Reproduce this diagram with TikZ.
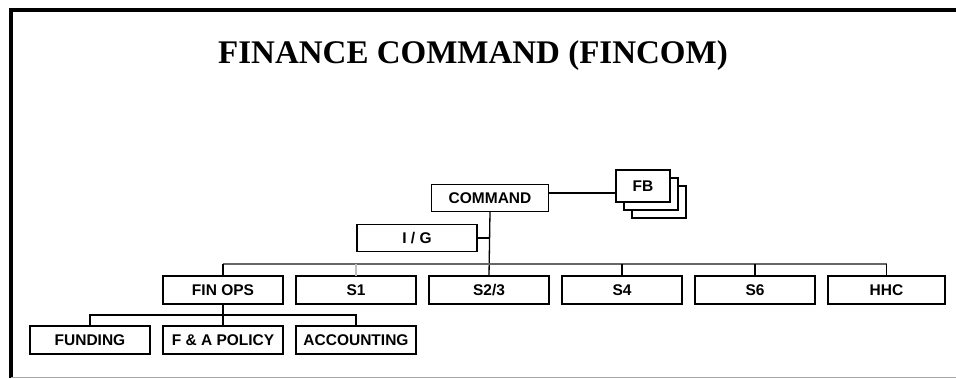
\documentclass[tikz,border=0pt]{standalone}
\usepackage{fontspec}
\setmainfont{Liberation Serif}
\setsansfont{Liberation Sans}
\usetikzlibrary{positioning}

\begin{document}
\begin{tikzpicture}[
    x=1pt, y=-1pt,
    node distance=22pt and 13pt,
    box/.style={rectangle, draw, line width=1.6pt, outer sep=0pt, fill=white, minimum width=120pt, minimum height=28pt, inner sep=0pt, text centered, font=\sffamily\bfseries\fontsize{15.5}{15.5}\selectfont},
    unit/.style={box},
    staff/.style={box, minimum width=117pt, minimum height=27pt},
    board/.style={box, minimum width=54pt, minimum height=32pt},
    tree/.style={line width=1.3pt, black},
    frame/.style={line width=4pt}
]
    \useasboundingbox (0,0) rectangle (956,378);

    % Page frame
    \draw[frame] (956,10) -- (11,10) -- (11,378);
    \draw[line width=1pt, black!35] (11,377) -- (956,377);

    % Title
    \node[anchor=base west, inner sep=0pt, font=\bfseries\fontsize{33}{33}\selectfont] (title) at (218,63) {FINANCE COMMAND (FINCOM)};

    % Command Layer
    \node[staff] (command) at (490,198) {COMMAND};
    \node[unit, minimum height=27pt] (ig) at (417,238) {I / G};

    % Board (stacked)
    \node[board] (fbback) at (659,202) {};
    \node[board] (fbmid) at (651,194) {};
    \node[board] (fb) at (643,186) {FB};

    % Staff Sections
    \node[unit] (finops) at (223,290) {FIN OPS};
    \node[unit, right=of finops] (s1) {S1};
    \node[unit, right=of s1] (s23) {S2/3};
    \node[unit, right=of s23] (s4) {S4};
    \node[unit, right=of s4] (s6) {S6};
    \node[unit, right=of s6, minimum width=117pt] (hhc) {HHC};

    % Finance Operations
    \node[unit, below=of finops] (policy) {F \& A POLICY};
    \node[unit, left=13pt of policy] (funding) {FUNDING};
    \node[unit, right=of policy] (accounting) {ACCOUNTING};

    % Connections
    \coordinate (bus) at (490,264);
    \coordinate (subbus) at (223,315);
    \coordinate (cmdlink) at ([yshift=5pt]command.east);
    \draw[tree] (cmdlink) -- (fb.west |- cmdlink);
    \draw[tree] (command.south) -- (s23.north);
    \draw[tree] (ig.east) -- (ig.east -| command.south);
    \draw[tree, black!60] (finops.north |- bus) -- (hhc.north |- bus);
    \draw[tree] (finops.north) -- (finops.north |- bus);
    \draw[tree, black!25] (s1.north) -- (s1.north |- bus);
    \draw[tree] (s4.north) -- (s4.north |- bus);
    \draw[tree] (s6.north) -- (s6.north |- bus);
    \draw[tree] (hhc.north) -- (hhc.north |- bus);
    \draw[tree] (finops.south) -- (policy.north);
    \draw[tree] (funding.north) |- (subbus) -| (accounting.north);
\end{tikzpicture}
\end{document}
